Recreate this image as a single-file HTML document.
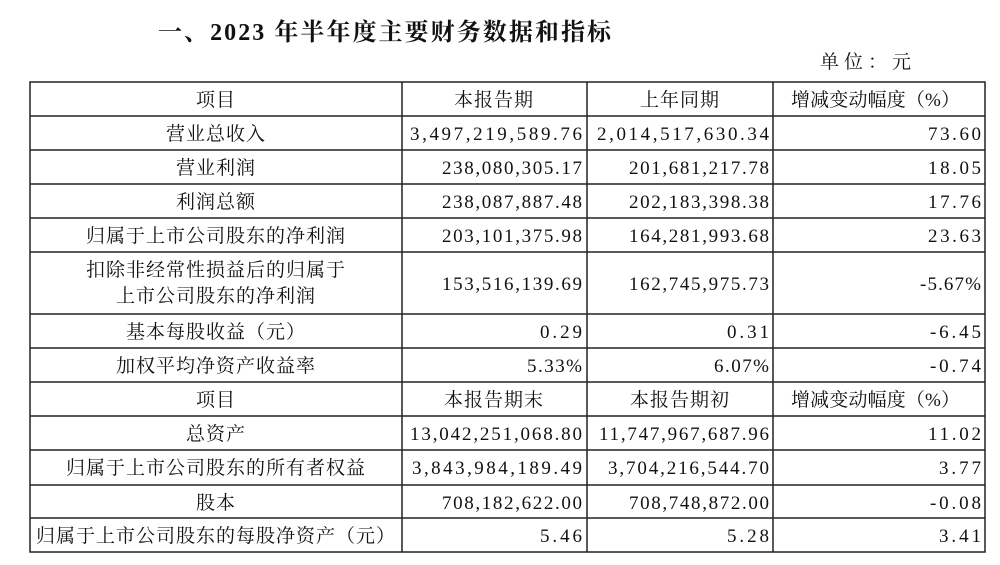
<!DOCTYPE html>
<html><head><meta charset="utf-8"><style>
html,body{margin:0;padding:0;background:#fff;}
svg text{font-family:"Liberation Serif","Noto Serif CJK SC",serif;fill:#111;font-size:19px;letter-spacing:1px;}
</style></head><body>
<svg width="1000" height="560" xmlns="http://www.w3.org/2000/svg">
<text x="158" y="40" style="font-size:24px;font-weight:bold" textLength="454" lengthAdjust="spacing">一、2023 年半年度主要财务数据和指标</text>
<text x="820" y="68" textLength="92" lengthAdjust="spacing">单位：元</text>
<g stroke="#222" stroke-width="1.5" fill="none">
<rect x="30" y="82" width="955" height="470"/>
<line x1="402" y1="82" x2="402" y2="552"/><line x1="587" y1="82" x2="587" y2="552"/><line x1="773" y1="82" x2="773" y2="552"/>
<line x1="30" y1="116" x2="985" y2="116"/><line x1="30" y1="150" x2="985" y2="150"/><line x1="30" y1="184" x2="985" y2="184"/>
<line x1="30" y1="218" x2="985" y2="218"/><line x1="30" y1="252" x2="985" y2="252"/><line x1="30" y1="314" x2="985" y2="314"/>
<line x1="30" y1="348" x2="985" y2="348"/><line x1="30" y1="382" x2="985" y2="382"/><line x1="30" y1="416" x2="985" y2="416"/>
<line x1="30" y1="450" x2="985" y2="450"/><line x1="30" y1="485" x2="985" y2="485"/><line x1="30" y1="518" x2="985" y2="518"/>
</g>
<g text-anchor="middle">
<text x="216" y="106">项目</text><text x="494" y="106">本报告期</text><text x="680" y="106">上年同期</text><text x="876" y="106" textLength="170" lengthAdjust="spacing">增减变动幅度（%）</text>
<text x="216" y="140">营业总收入</text>
<text x="216" y="174">营业利润</text>
<text x="216" y="208">利润总额</text>
<text x="216" y="242">归属于上市公司股东的净利润</text>
<text x="216" y="276">扣除非经常性损益后的归属于</text>
<text x="216" y="302">上市公司股东的净利润</text>
<text x="216" y="338">基本每股收益（元）</text>
<text x="216" y="372">加权平均净资产收益率</text>
<text x="216" y="406">项目</text><text x="494" y="406">本报告期末</text><text x="680" y="406">本报告期初</text><text x="876" y="406" textLength="170" lengthAdjust="spacing">增减变动幅度（%）</text>
<text x="216" y="440">总资产</text>
<text x="216" y="474">归属于上市公司股东的所有者权益</text>
<text x="216" y="509">股本</text>
<text x="216" y="542">归属于上市公司股东的每股净资产（元）</text>
</g>
<g text-anchor="end">
<text x="583" y="140" textLength="173" lengthAdjust="spacing">3,497,219,589.76</text>
<text x="770" y="140" textLength="173" lengthAdjust="spacing">2,014,517,630.34</text>
<text x="982" y="140" textLength="54" lengthAdjust="spacing">73.60</text>
<text x="583" y="174" textLength="141" lengthAdjust="spacing">238,080,305.17</text>
<text x="770" y="174" textLength="141" lengthAdjust="spacing">201,681,217.78</text>
<text x="982" y="174" textLength="54" lengthAdjust="spacing">18.05</text>
<text x="583" y="208" textLength="141" lengthAdjust="spacing">238,087,887.48</text>
<text x="770" y="208" textLength="141" lengthAdjust="spacing">202,183,398.38</text>
<text x="982" y="208" textLength="54" lengthAdjust="spacing">17.76</text>
<text x="583" y="242" textLength="141" lengthAdjust="spacing">203,101,375.98</text>
<text x="770" y="242" textLength="141" lengthAdjust="spacing">164,281,993.68</text>
<text x="982" y="242" textLength="54" lengthAdjust="spacing">23.63</text>
<text x="583" y="290" textLength="141" lengthAdjust="spacing">153,516,139.69</text>
<text x="770" y="290" textLength="141" lengthAdjust="spacing">162,745,975.73</text>
<text x="982" y="290" textLength="62" lengthAdjust="spacing">-5.67%</text>
<text x="583" y="338" textLength="43" lengthAdjust="spacing">0.29</text><text x="770" y="338" textLength="43" lengthAdjust="spacing">0.31</text><text x="982" y="338" textLength="52" lengthAdjust="spacing">-6.45</text>
<text x="583" y="372" textLength="56" lengthAdjust="spacing">5.33%</text><text x="770" y="372" textLength="56" lengthAdjust="spacing">6.07%</text><text x="982" y="372" textLength="52" lengthAdjust="spacing">-0.74</text>
<text x="583" y="440" textLength="173" lengthAdjust="spacing">13,042,251,068.80</text>
<text x="770" y="440" textLength="171" lengthAdjust="spacing">11,747,967,687.96</text>
<text x="982" y="440" textLength="54" lengthAdjust="spacing">11.02</text>
<text x="583" y="474" textLength="171" lengthAdjust="spacing">3,843,984,189.49</text>
<text x="770" y="474" textLength="162" lengthAdjust="spacing">3,704,216,544.70</text>
<text x="982" y="474" textLength="43" lengthAdjust="spacing">3.77</text>
<text x="583" y="509" textLength="141" lengthAdjust="spacing">708,182,622.00</text>
<text x="770" y="509" textLength="141" lengthAdjust="spacing">708,748,872.00</text>
<text x="982" y="509" textLength="52" lengthAdjust="spacing">-0.08</text>
<text x="583" y="542" textLength="43" lengthAdjust="spacing">5.46</text><text x="770" y="542" textLength="43" lengthAdjust="spacing">5.28</text><text x="982" y="542" textLength="43" lengthAdjust="spacing">3.41</text>
</g>
</svg>
</body></html>
